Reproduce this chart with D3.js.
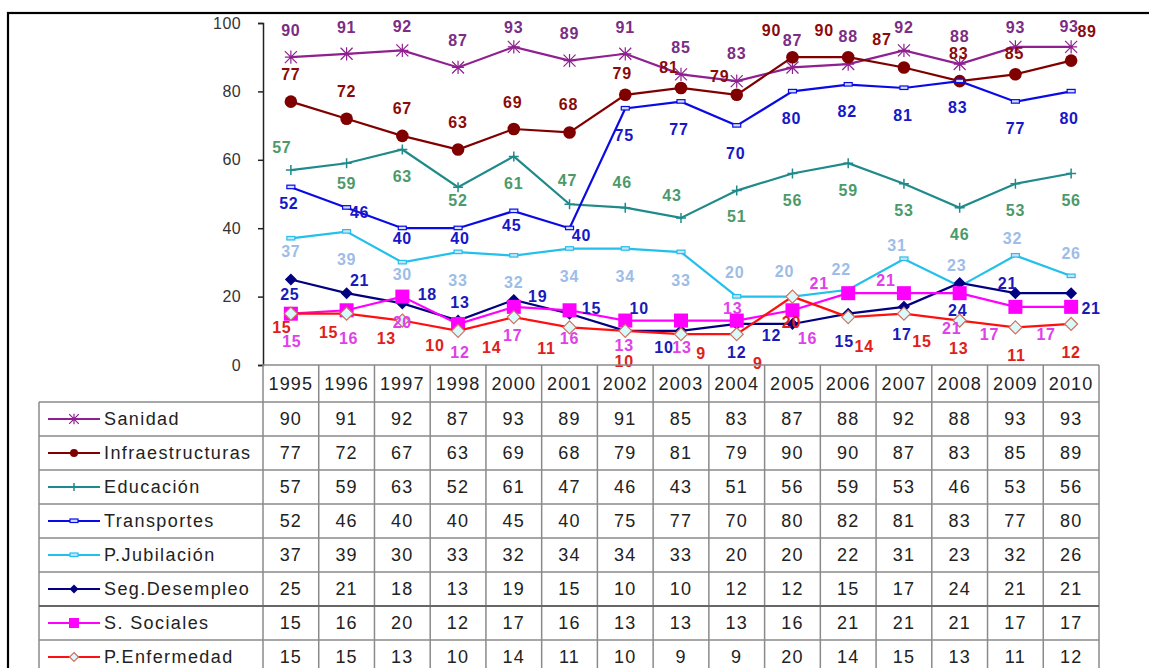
<!DOCTYPE html>
<html><head><meta charset="utf-8">
<script src="https://cdn.jsdelivr.net/npm/d3@7"></script>
<style>
html,body{margin:0;padding:0;background:#fff;}
svg{display:block;font-family:"Liberation Sans",Arial,sans-serif;}
</style></head>
<body><svg id="c" width="1149" height="668"></svg>
<script>
const years = ["1995","1996","1997","1998","2000","2001","2002","2003","2004","2005","2006","2007","2008","2009","2010"];
const seriesNames = ["Sanidad","Infraestructuras","Educación","Transportes","P.Jubilación","Seg.Desempleo","S. Sociales","P.Enfermedad"];
const sanidad        = [90,91,92,87,93,89,91,85,83,87,88,92,88,93,93];
const infraestructuras = [77,72,67,63,69,68,79,81,79,90,90,87,83,85,89];
const educacion      = [57,59,63,52,61,47,46,43,51,56,59,53,46,53,56];
const transportes    = [52,46,40,40,45,40,75,77,70,80,82,81,83,77,80];
const jubilacion     = [37,39,30,33,32,34,34,33,20,20,22,31,23,32,26];
const desempleo      = [25,21,18,13,19,15,10,10,12,12,15,17,24,21,21];
const sociales       = [15,16,20,12,17,16,13,13,13,16,21,21,21,17,17];
const enfermedad     = [15,15,13,10,14,11,10,9,9,20,14,15,13,11,12];
const yTicks = [0,20,40,60,80,100];

// styles
const lineColors  = ["#8E2090","#800000","#208A8A","#0A0AE6","#22C0EA","#000080","#FF00FF","#FF1010"];
const labelColors = ["#7B2C84","#8B0A0A","#4C9A6A","#1717C8","#9DBDE8","#1A1AB8","#E040E8","#E0201A"];
const markerTypes = ["asterisk","circle","plus","rect","rect","diamond","square","hdiamond"];
// label centre offsets [dx,dy] in px from each point
const labelOffsets = [
  [[0,-27],[0,-27],[0,-24],[0,-27],[0,-20],[0,-27],[0,-27],[0,-27],[0,-28],[0,-27],[0,-28],[0,-23],[0,-28],[0,-20],[-2,-21]],
  [[0,-27],[0,-28],[0,-28],[0,-27],[-1,-27],[-1,-28],[-3,-22],[-12,-21],[-17,-19],[-21,-27],[-24,-27],[-22,-28],[-1,-28],[-1,-21],[16,-29]],
  [[-9,-23],[0,20],[0,27],[0,13],[0,27],[-2,-24],[-3,-25],[-9,-23],[0,26],[0,27],[0,27],[0,26],[0,27],[0,26],[0,27]],
  [[-2,16],[13,5],[0,10],[2,10],[-2,14],[12,7],[-1,27],[-2,28],[-1,28],[-1,27],[-1,27],[-1,27],[-2,26],[0,27],[-2,27]],
  [[0,13],[0,28],[0,12],[0,28],[0,27],[0,28],[0,28],[0,28],[-2,-24],[-8,-25],[-7,-21],[-7,-14],[-3,-21],[-3,-17],[0,-23]],
  [[-1,15],[13,-13],[25,-9],[2,-18],[24,-4],[22,-5],[14,-23],[-17,16],[0,28],[-21,11],[-4,28],[-2,27],[-2,27],[-8,-10],[20,15]],
  [[1,28],[2,28],[0,26],[2,28],[-1,28],[0,28],[-1,25],[1,27],[-4,-12],[15,28],[-29,-10],[-18,-13],[-8,35],[-26,27],[-25,27]],
  [[-9,14],[-18,19],[-16,18],[-23,14],[-22,30],[-23,21],[-1,30],[20,19],[21,29],[-1,26],[16,29],[18,28],[-1,28],[1,28],[0,28]]
];
const values = [sanidad,infraestructuras,educacion,transportes,jubilacion,desempleo,sociales,enfermedad];

const svg = d3.select("#c");
// outer frame
svg.append("rect").attr("x",8).attr("y",13).attr("width",1160).attr("height",700)
  .attr("fill","none").attr("stroke","#000").attr("stroke-width",2.2);

const x = d3.scaleBand().domain(years).range([263,1099]).padding(0);
const y = d3.scaleLinear().domain([0,100]).range([365,23]);
const cx = d => x(d) + x.bandwidth()/2;

// y axis
const ax = svg.append("g").attr("transform","translate(263,0)")
  .call(d3.axisLeft(y).tickValues(yTicks).tickSize(5).tickPadding(17));
ax.attr("font-size",null).attr("font-family",null);
ax.select(".domain").attr("stroke","#222").attr("stroke-width",1.5);
ax.selectAll(".tick line").attr("stroke","#222").attr("stroke-width",1.5);
ax.selectAll(".tick text").style("font-size","16px").attr("fill","#333").attr("letter-spacing","0.4px")
  .style("font-family","\"Liberation Sans\",Arial,sans-serif");

function drawMarker(g, type, color, px, py, small) {
  const s = small ? 0.8 : 1;
  if (type === "asterisk") {
    const r = 6*s;
    g.append("path").attr("d",`M${px-r},${py-r}L${px+r},${py+r}M${px-r},${py+r}L${px+r},${py-r}M${px},${py-r*1.1}L${px},${py+r*1.1}M${px-r},${py}L${px+r},${py}`)
      .attr("stroke",color).attr("stroke-width",1.2).attr("fill","none");
  } else if (type === "circle") {
    g.append("circle").attr("cx",px).attr("cy",py).attr("r",small?4:6.3).attr("fill",color);
  } else if (type === "plus") {
    const r = 5*s;
    g.append("path").attr("d",`M${px-r},${py}L${px+r},${py}M${px},${py-r}L${px},${py+r}`)
      .attr("stroke",color).attr("stroke-width",1.5);
  } else if (type === "rect") {
    g.append("rect").attr("x",px-4).attr("y",py-2).attr("width",8).attr("height",3.5)
      .attr("fill","#cfe0ff").attr("stroke",color).attr("stroke-width",1.2);
  } else if (type === "diamond") {
    const r = small?4.5:6;
    g.append("path").attr("d",`M${px},${py-r}L${px+r},${py}L${px},${py+r}L${px-r},${py}Z`).attr("fill",color);
  } else if (type === "square") {
    const r = small?5:7;
    g.append("rect").attr("x",px-r).attr("y",py-r).attr("width",2*r).attr("height",2*r).attr("fill",color);
  } else if (type === "hdiamond") {
    const r = small?4.5:6.5;
    g.append("path").attr("d",`M${px},${py-r}L${px+r},${py}L${px},${py+r}L${px-r},${py}Z`)
      .attr("fill","#D8FAFA").attr("stroke","#D07060").attr("stroke-width",1.2);
  }
}

const line = d3.line().x((d,i)=>cx(years[i])).y(d=>y(d));
values.forEach((vals,si)=>{
  const g = svg.append("g");
  g.append("path").datum(vals).attr("d",line).attr("fill","none")
    .attr("stroke",lineColors[si]).attr("stroke-width",2.2);
  vals.forEach((v,i)=>drawMarker(g, markerTypes[si], lineColors[si], cx(years[i]), y(v), false));
});
// labels on top
values.forEach((vals,si)=>{
  svg.append("g").selectAll("text").data(vals).join("text")
    .attr("x",(d,i)=>cx(years[i]) + labelOffsets[si][i][0])
    .attr("y",(d,i)=>y(d) + labelOffsets[si][i][1])
    .attr("dy","0.36em").attr("text-anchor","middle")
    .attr("font-size",16).attr("font-weight","bold").attr("letter-spacing","0.8px")
    .attr("fill",labelColors[si]).text(d=>d);
});

// data table
const tableTop = 402, rowH = 34, legLeft = 39;
const tg = svg.append("g");
const gridColor = "#8a8a8a";
tg.append("line").attr("x1",263).attr("x2",1099).attr("y1",365).attr("y2",365).attr("stroke",gridColor).attr("stroke-width",1.5);
const colEdges = years.map(yy=>x(yy)).concat([1099]);
colEdges.forEach(e=>{
  tg.append("line").attr("x1",e).attr("x2",e).attr("y1",365).attr("y2",tableTop+rowH*8+10)
    .attr("stroke",gridColor).attr("stroke-width",1.5);
});
tg.append("line").attr("x1",legLeft).attr("x2",legLeft).attr("y1",tableTop).attr("y2",tableTop+rowH*8+10)
  .attr("stroke",gridColor).attr("stroke-width",1.5);
for (let r=0;r<=8;r++){
  tg.append("line").attr("x1",legLeft).attr("x2",1099).attr("y1",tableTop+r*rowH).attr("y2",tableTop+r*rowH)
    .attr("stroke", r===6 ? "#666" : gridColor).attr("stroke-width", r===6?2:1.5);
}
tg.selectAll("text.yr").data(years).join("text").attr("class","yr")
  .attr("x",d=>cx(d)).attr("y",(365+tableTop)/2).attr("dy","0.36em").attr("text-anchor","middle")
  .attr("font-size",18).attr("letter-spacing","1.2px").attr("fill","#222").text(d=>d);
values.forEach((vals,si)=>{
  const ry = tableTop + si*rowH + rowH/2;
  tg.append("g").selectAll("text").data(vals).join("text")
    .attr("x",(d,i)=>cx(years[i])).attr("y",ry).attr("dy","0.36em").attr("text-anchor","middle")
    .attr("font-size",18).attr("letter-spacing","1.2px").attr("fill","#222").text(d=>d);
  tg.append("line").attr("x1",48).attr("x2",100).attr("y1",ry).attr("y2",ry)
    .attr("stroke",lineColors[si]).attr("stroke-width",2.2);
  drawMarker(tg, markerTypes[si], lineColors[si], 74, ry, true);
  tg.append("text").attr("x",104).attr("y",ry).attr("dy","0.36em")
    .attr("font-size",18).attr("letter-spacing","1.4px").attr("fill","#222").text(seriesNames[si]);
});
</script></body></html>
